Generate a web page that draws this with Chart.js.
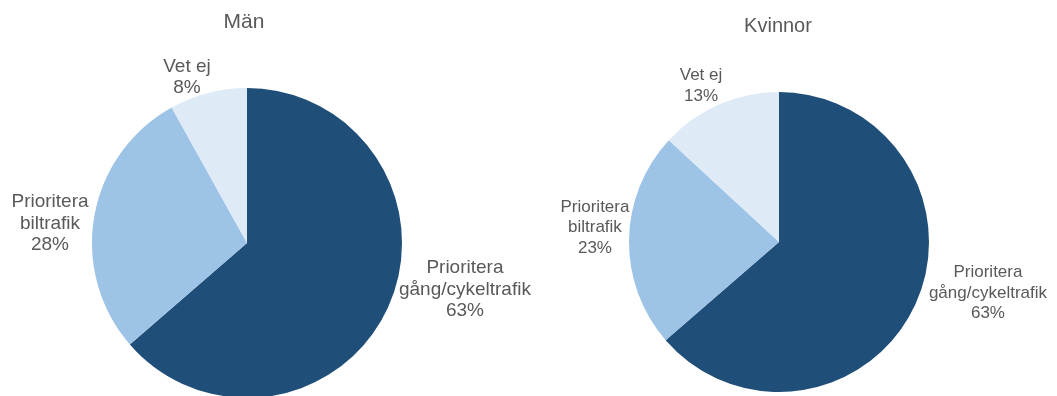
<!DOCTYPE html>
<html>
<head>
<meta charset="utf-8">
<script src="https://cdn.jsdelivr.net/npm/chart.js@4/dist/chart.umd.min.js"></script>
<style>
  html, body { margin: 0; padding: 0; background: #ffffff; width: 1057px; height: 396px; overflow: hidden; }
  canvas { position: absolute; left: 0; top: 0; }
</style>
</head>
<body>
<canvas id="man" width="1057" height="420"></canvas>
<canvas id="kvinnor" width="1057" height="420"></canvas>
<script>
// Answer categories (each entry split into label lines)
const categories = [
  ['Prioritera', 'gång/cykeltrafik'],
  ['Prioritera', 'biltrafik'],
  ['Vet ej']
];
// Share of respondents, percent
const manValues = [63, 28, 8];
const kvinnorValues = [63, 23, 13];
const sliceColors = ['#1F4E79', '#9DC3E6', '#DEEBF7'];

const textColor = '#595959';
const fontFamily = '"Liberation Sans", Arial, sans-serif';

// Draws the title above the pie and a label beside every slice
const pieLabels = {
  id: 'pieLabels',
  afterDraw(chart, args, opts) {
    const ctx = chart.ctx;
    const meta = chart.getDatasetMeta(0);
    const values = chart.data.datasets[0].data;
    ctx.save();
    ctx.fillStyle = textColor;
    ctx.textAlign = 'center';
    ctx.textBaseline = 'middle';

    const first = meta.data[0].getProps(['x', 'y', 'outerRadius'], true);
    ctx.font = opts.titleSize + 'px ' + fontFamily;
    ctx.fillText(opts.title, first.x + opts.titleDx, opts.titleY);

    ctx.font = opts.labelSize + 'px ' + fontFamily;
    meta.data.forEach((arc, i) => {
      const p = arc.getProps(['x', 'y', 'outerRadius'], true);
      const off = opts.offsets[i];
      const cx = p.x + off[0] * p.outerRadius;
      const cy = p.y + off[1] * p.outerRadius;
      const lines = chart.data.labels[i].concat([values[i] + '%']);
      const top = cy - (lines.length - 1) * opts.lineHeight / 2;
      lines.forEach((line, j) => {
        ctx.fillText(line, cx, top + j * opts.lineHeight);
      });
    });
    ctx.restore();
  }
};

function makePie(id, values, padding, labelOpts) {
  return new Chart(document.getElementById(id), {
    type: 'pie',
    data: {
      labels: categories,
      datasets: [{
        data: values,
        backgroundColor: sliceColors,
        borderWidth: 0
      }]
    },
    options: {
      responsive: false,
      animation: false,
      devicePixelRatio: 1,
      layout: { padding: padding },
      plugins: {
        legend: { display: false },
        tooltip: { enabled: false },
        pieLabels: labelOpts
      }
    },
    plugins: [pieLabels]
  });
}

makePie('man', manValues,
  { left: 92, right: 655, top: 88, bottom: 22 },
  {
    title: 'Män', titleSize: 21, titleY: 22, titleDx: -3,
    labelSize: 19, lineHeight: 21.5,
    offsets: [[1.406, 0.300], [-1.271, -0.126], [-0.387, -1.068]]
  });

makePie('kvinnor', kvinnorValues,
  { left: 629, right: 128, top: 92, bottom: 28 },
  {
    title: 'Kvinnor', titleSize: 20, titleY: 26, titleDx: -1,
    labelSize: 17, lineHeight: 20.5,
    offsets: [[1.393, 0.340], [-1.227, -0.097], [-0.520, -1.040]]
  });
</script>
</body>
</html>
